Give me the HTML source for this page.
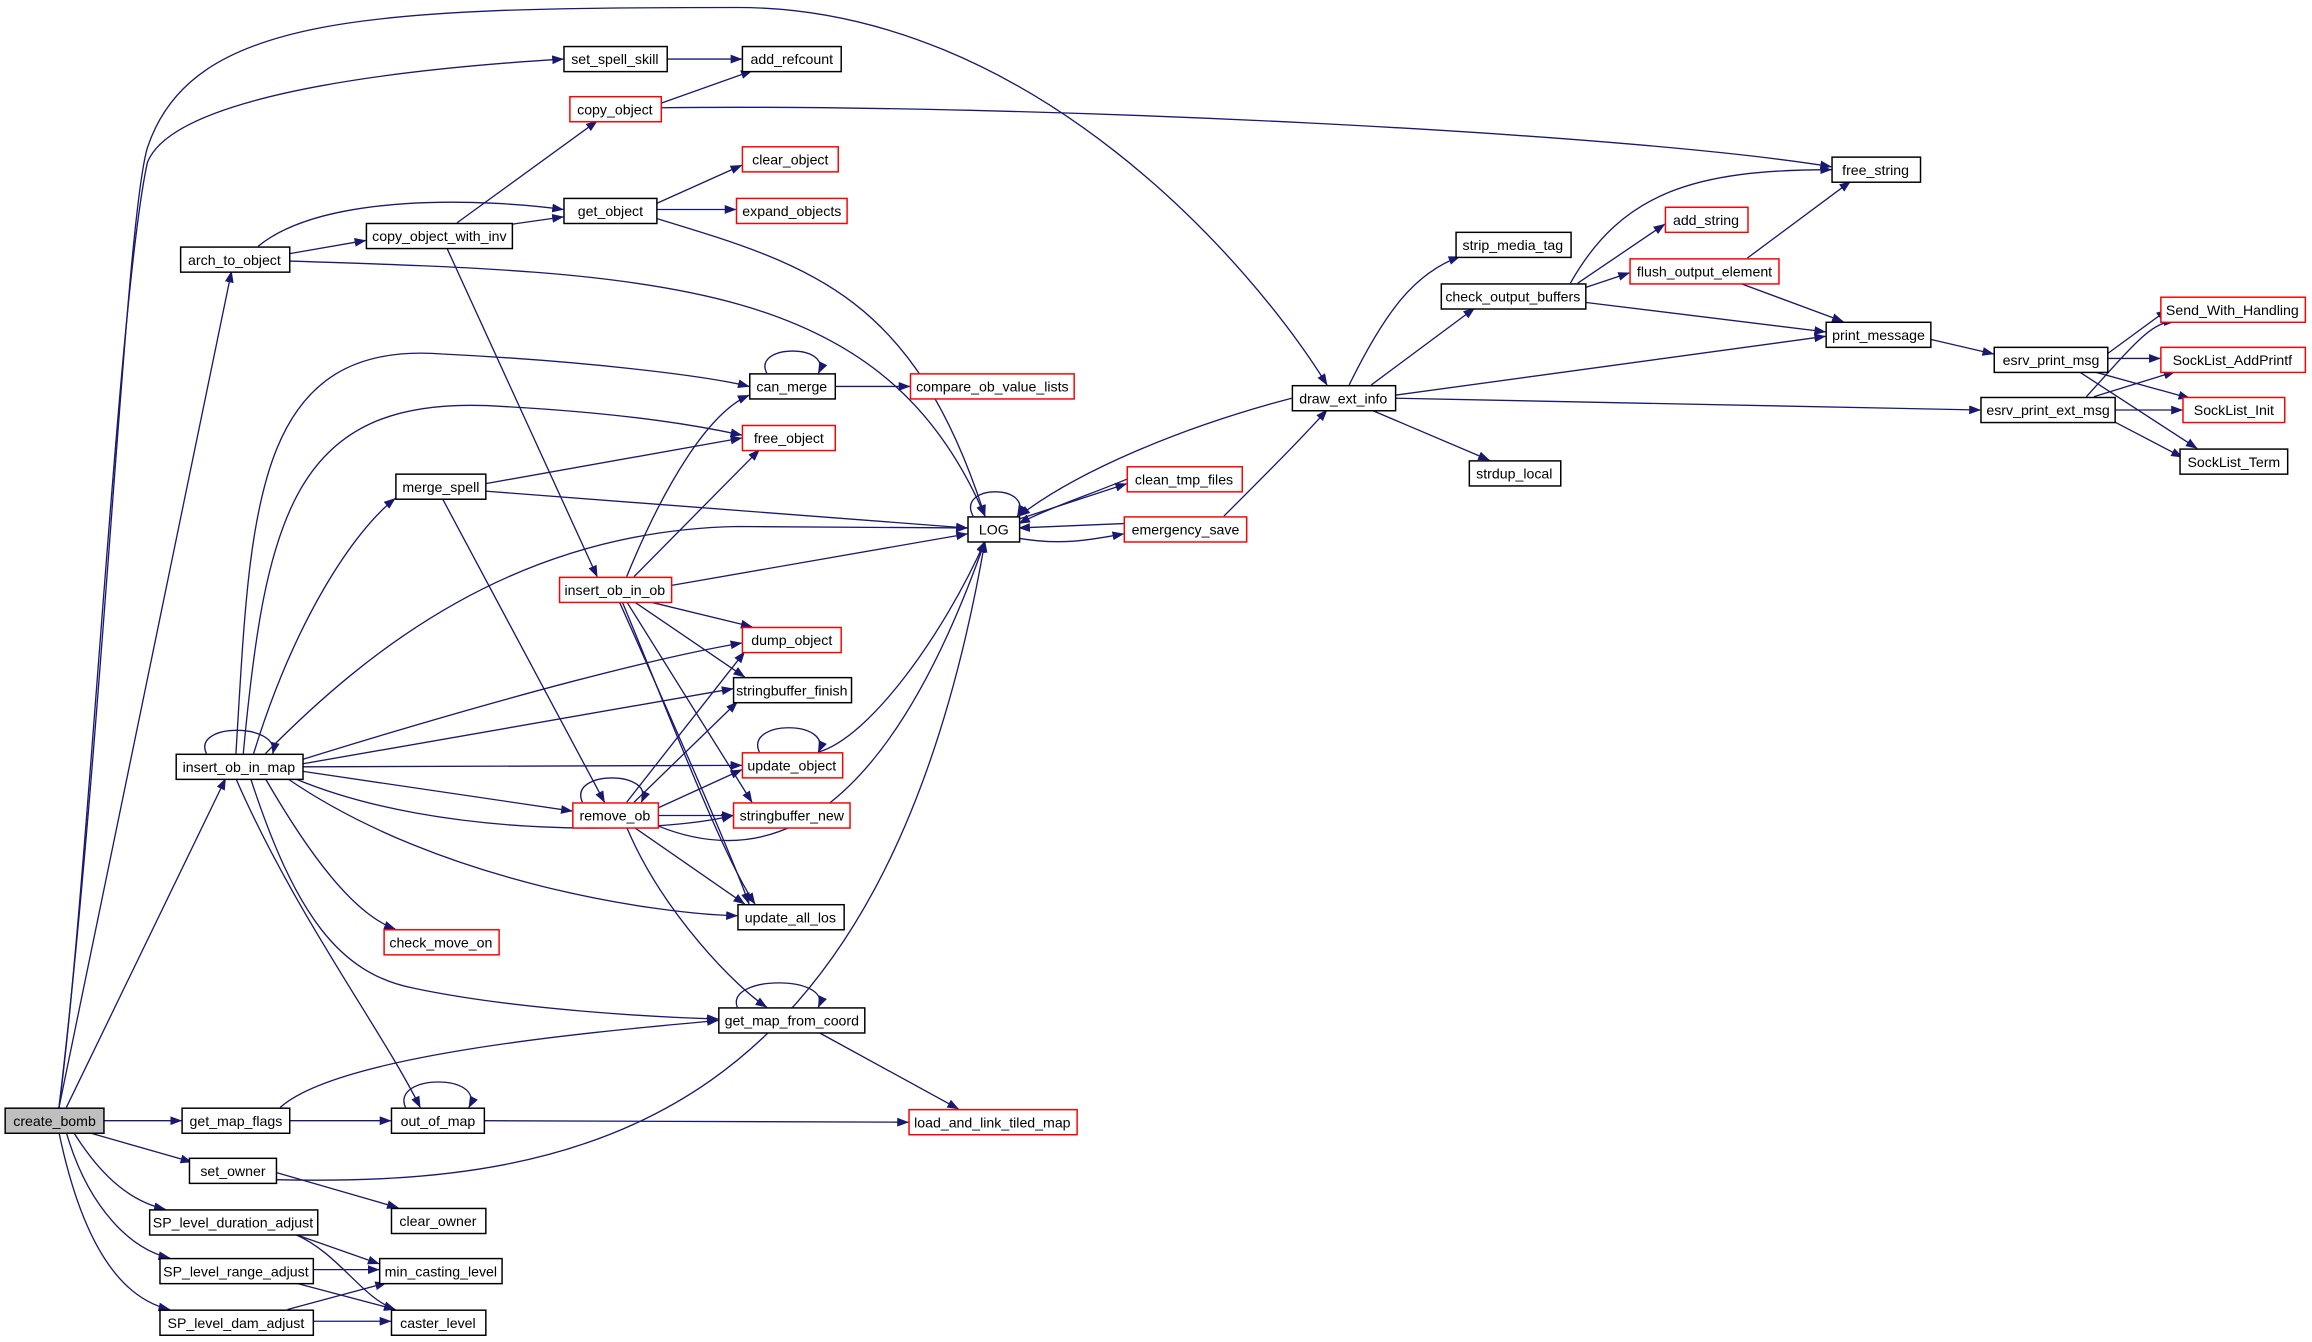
<!DOCTYPE html>
<html><head><meta charset="utf-8"><style>
html,body{margin:0;padding:0;background:#fff;}
svg{display:block;}
text{font-family:"Liberation Sans",Arial,sans-serif;font-size:9.6px;fill:#000;text-anchor:middle;}
.n{fill:#fff;stroke:#000;stroke-width:1;}
.r{fill:#fff;stroke:#ff0000;stroke-width:1;}
.g{fill:#bfbfbf;stroke:#000;stroke-width:1;}
path{fill:none;stroke:#191970;stroke-width:0.9;}
</style></head><body>
<svg width="2312" height="1342" viewBox="0 0 1568 910" xmlns="http://www.w3.org/2000/svg">
<defs><marker id="a" markerWidth="8" markerHeight="6" refX="7.5" refY="3" orient="auto" markerUnits="userSpaceOnUse"><polygon points="0,0 8,3 0,6" fill="#191970"/></marker></defs>
<g marker-end="url(#a)">
<path d="M40,751 C60,600 80,200 100,110 C120,60 300,45 382,40"/>
<path d="M40,751 C70,500 85,150 100,100 C130,10 250,5 500,5 C700,5 850,180 900,261"/>
<path d="M40,751 L157,184"/>
<path d="M45,751 L153,528"/>
<path d="M70,760 L123,760"/>
<path d="M60,768 L130,788"/>
<path d="M50,768 C70,800 90,815 112,820"/>
<path d="M45,768 C60,820 90,848 115,853"/>
<path d="M40,768 C55,840 80,880 115,888"/>
<path d="M187,800 C400,805 600,760 668,367"/>
<path d="M452,40 L503,40"/>
<path d="M448,70 L510,48"/>
<path d="M448,73 C700,70 1100,90 1242,113"/>
<path d="M175,167 C220,130 330,135 382,142"/>
<path d="M196,172 L248,163"/>
<path d="M196,177 C450,185 600,190 668,350"/>
<path d="M310,151 L405,82"/>
<path d="M347,152 L382,147"/>
<path d="M303,168 L405,391"/>
<path d="M445,138 L503,112"/>
<path d="M445,142 L499,142"/>
<path d="M445,148 C550,180 620,200 668,350"/>
<path d="M520,253 C510,233 565,233 555,253"/>
<path d="M566,262 L617,262"/>
<path d="M160,511 C170,350 170,230 300,240 C400,245 480,255 508,262"/>
<path d="M165,511 C180,350 200,270 330,275 C430,280 480,290 503,295"/>
<path d="M172,511 C200,420 240,360 268,338"/>
<path d="M180,511 C250,440 350,360 500,357 L656,358"/>
<path d="M205,515 C350,470 450,445 503,436"/>
<path d="M205,518 L497,467"/>
<path d="M205,520 L503,519"/>
<path d="M205,523 L388,550"/>
<path d="M200,528 C300,570 450,565 497,553"/>
<path d="M195,528 C300,600 450,620 500,621"/>
<path d="M180,528 C210,580 240,620 268,630"/>
<path d="M170,528 C200,620 230,660 280,670 C350,685 450,690 487,691"/>
<path d="M160,528 C200,620 260,700 285,751"/>
<path d="M140,511 C130,490 190,490 185,511"/>
<path d="M329,328 L503,297"/>
<path d="M329,333 L656,358"/>
<path d="M300,338 L410,544"/>
<path d="M425,391 C450,330 480,280 508,268"/>
<path d="M430,391 L515,305"/>
<path d="M455,397 L656,362"/>
<path d="M440,408 L510,425"/>
<path d="M430,408 L505,459"/>
<path d="M425,408 L510,544"/>
<path d="M422,408 C460,500 490,580 512,613"/>
<path d="M420,408 C470,520 500,590 508,613"/>
<path d="M425,544 L505,442"/>
<path d="M430,544 L500,476"/>
<path d="M446,548 L503,522"/>
<path d="M446,553 L497,553"/>
<path d="M446,560 C520,590 600,560 668,367"/>
<path d="M430,561 L505,613"/>
<path d="M425,561 C450,620 500,670 520,683"/>
<path d="M395,544 C385,522 445,522 435,544"/>
<path d="M515,510 C505,488 565,488 555,510"/>
<path d="M555,510 C590,500 640,430 668,367"/>
<path d="M660,350 C648,328 702,328 690,350"/>
<path d="M691,352 L764,328"/>
<path d="M691,365 C720,370 740,366 762,362"/>
<path d="M764,325 C740,335 710,345 691,355"/>
<path d="M762,355 L691,358"/>
<path d="M830,350 C860,320 880,300 900,278"/>
<path d="M876,270 C800,290 730,320 691,350"/>
<path d="M500,683 C492,661 565,661 555,683"/>
<path d="M555,700 L650,752"/>
<path d="M190,751 C230,715 400,700 487,692"/>
<path d="M196,760 L265,760"/>
<path d="M275,751 C265,728 330,728 318,751"/>
<path d="M328,760 L616,761"/>
<path d="M187,795 L270,819"/>
<path d="M200,837 L257,857"/>
<path d="M200,837 C230,850 245,880 268,888"/>
<path d="M212,861 L257,861"/>
<path d="M200,870 L268,888"/>
<path d="M195,888 L262,870"/>
<path d="M212,896 L265,896"/>
<path d="M915,261 C940,210 960,185 990,174"/>
<path d="M930,261 L1000,209"/>
<path d="M946,268 L1238,228"/>
<path d="M946,270 L1343,278"/>
<path d="M930,278 L1010,312"/>
<path d="M1065,192 C1100,130 1150,115 1242,115"/>
<path d="M1070,192 L1129,152"/>
<path d="M1075,195 L1105,185"/>
<path d="M1075,205 L1238,225"/>
<path d="M1185,175 L1255,123"/>
<path d="M1180,192 L1250,218"/>
<path d="M1309,230 L1352,240"/>
<path d="M1429,240 L1470,210"/>
<path d="M1429,243 L1465,243"/>
<path d="M1420,252 L1485,270"/>
<path d="M1410,252 L1490,304"/>
<path d="M1415,269 C1450,230 1460,218 1475,218"/>
<path d="M1420,269 L1475,252"/>
<path d="M1434,278 L1480,278"/>
<path d="M1434,286 L1480,310"/>
</g>
<g>
<rect class="g" x="3.5" y="751.5" width="67" height="17"/><text x="37" y="763.5">create_bomb</text>
<rect class="n" x="382.5" y="31.5" width="70" height="17"/><text x="417" y="43.5">set_spell_skill</text>
<rect class="n" x="503.5" y="31.5" width="67" height="17"/><text x="537" y="43.5">add_refcount</text>
<rect class="r" x="386.5" y="65.5" width="62" height="17"/><text x="417" y="77.5">copy_object</text>
<rect class="r" x="503.5" y="99.5" width="65" height="17"/><text x="536" y="111.5">clear_object</text>
<rect class="n" x="382.5" y="134.5" width="63" height="17"/><text x="414" y="146.5">get_object</text>
<rect class="r" x="499.5" y="134.5" width="75" height="17"/><text x="537" y="146.5">expand_objects</text>
<rect class="n" x="122.5" y="167.5" width="74" height="17"/><text x="159" y="179.5">arch_to_object</text>
<rect class="n" x="248.5" y="151.5" width="99" height="17"/><text x="298" y="163.5">copy_object_with_inv</text>
<rect class="n" x="508.5" y="253.5" width="58" height="17"/><text x="537" y="265.5">can_merge</text>
<rect class="r" x="617.5" y="253.5" width="111" height="17"/><text x="673" y="265.5">compare_ob_value_lists</text>
<rect class="r" x="503.5" y="288.5" width="63" height="17"/><text x="535" y="300.5">free_object</text>
<rect class="n" x="268.5" y="321.5" width="61" height="17"/><text x="299" y="333.5">merge_spell</text>
<rect class="n" x="656.5" y="350.5" width="35" height="17"/><text x="674" y="362.5">LOG</text>
<rect class="r" x="764.5" y="316.5" width="78" height="17"/><text x="803" y="328.5">clean_tmp_files</text>
<rect class="r" x="762.5" y="350.5" width="83" height="17"/><text x="804" y="362.5">emergency_save</text>
<rect class="r" x="379.5" y="391.5" width="76" height="17"/><text x="417" y="403.5">insert_ob_in_ob</text>
<rect class="r" x="503.5" y="425.5" width="67" height="17"/><text x="537" y="437.5">dump_object</text>
<rect class="n" x="497.5" y="459.5" width="80" height="17"/><text x="537" y="471.5">stringbuffer_finish</text>
<rect class="n" x="119.5" y="511.5" width="86" height="17"/><text x="162" y="523.5">insert_ob_in_map</text>
<rect class="r" x="503.5" y="510.5" width="68" height="17"/><text x="537" y="522.5">update_object</text>
<rect class="r" x="388.5" y="544.5" width="58" height="17"/><text x="417" y="556.5">remove_ob</text>
<rect class="r" x="497.5" y="544.5" width="79" height="17"/><text x="537" y="556.5">stringbuffer_new</text>
<rect class="n" x="500.5" y="613.5" width="72" height="17"/><text x="536" y="625.5">update_all_los</text>
<rect class="r" x="260.5" y="630.5" width="78" height="17"/><text x="299" y="642.5">check_move_on</text>
<rect class="n" x="487.5" y="683.5" width="99" height="17"/><text x="537" y="695.5">get_map_from_coord</text>
<rect class="n" x="123.5" y="751.5" width="73" height="17"/><text x="160" y="763.5">get_map_flags</text>
<rect class="n" x="265.5" y="751.5" width="63" height="17"/><text x="297" y="763.5">out_of_map</text>
<rect class="r" x="616.5" y="752.5" width="114" height="17"/><text x="673" y="764.5">load_and_link_tiled_map</text>
<rect class="n" x="128.5" y="785.5" width="59" height="17"/><text x="158" y="797.5">set_owner</text>
<rect class="n" x="265.5" y="819.5" width="64" height="17"/><text x="297" y="831.5">clear_owner</text>
<rect class="n" x="101.5" y="820.5" width="114" height="17"/><text x="158" y="832.5">SP_level_duration_adjust</text>
<rect class="n" x="257.5" y="853.5" width="83" height="17"/><text x="299" y="865.5">min_casting_level</text>
<rect class="n" x="108.5" y="853.5" width="104" height="17"/><text x="160" y="865.5">SP_level_range_adjust</text>
<rect class="n" x="265.5" y="888.5" width="64" height="17"/><text x="297" y="900.5">caster_level</text>
<rect class="n" x="108.5" y="888.5" width="104" height="17"/><text x="160" y="900.5">SP_level_dam_adjust</text>
<rect class="n" x="876.5" y="261.5" width="70" height="17"/><text x="911" y="273.5">draw_ext_info</text>
<rect class="n" x="987.5" y="157.5" width="78" height="17"/><text x="1026" y="169.5">strip_media_tag</text>
<rect class="n" x="977.5" y="192.5" width="98" height="17"/><text x="1026" y="204.5">check_output_buffers</text>
<rect class="r" x="1129.5" y="140.5" width="56" height="17"/><text x="1157" y="152.5">add_string</text>
<rect class="r" x="1105.5" y="175.5" width="101" height="17"/><text x="1156" y="187.5">flush_output_element</text>
<rect class="n" x="1242.5" y="106.5" width="60" height="17"/><text x="1272" y="118.5">free_string</text>
<rect class="n" x="1238.5" y="218.5" width="71" height="17"/><text x="1274" y="230.5">print_message</text>
<rect class="n" x="996.5" y="312.5" width="62" height="17"/><text x="1027" y="324.5">strdup_local</text>
<rect class="n" x="1352.5" y="235.5" width="77" height="17"/><text x="1391" y="247.5">esrv_print_msg</text>
<rect class="n" x="1343.5" y="269.5" width="91" height="17"/><text x="1389" y="281.5">esrv_print_ext_msg</text>
<rect class="r" x="1465.5" y="201.5" width="98" height="17"/><text x="1514" y="213.5">Send_With_Handling</text>
<rect class="r" x="1465.5" y="235.5" width="98" height="17"/><text x="1514" y="247.5">SockList_AddPrintf</text>
<rect class="r" x="1480.5" y="269.5" width="69" height="17"/><text x="1515" y="281.5">SockList_Init</text>
<rect class="n" x="1478.5" y="304.5" width="73" height="17"/><text x="1515" y="316.5">SockList_Term</text>
</g>
</svg>
</body></html>
